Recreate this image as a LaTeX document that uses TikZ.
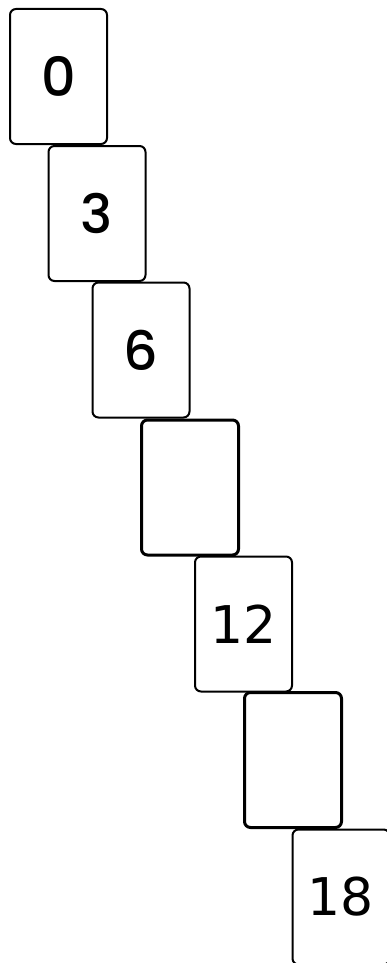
\documentclass[tikz,border=0pt]{standalone}
\usepackage{fontspec}
\setmainfont{Poppins}[BoldFont={* Medium}]
\newfontfamily\twofont{DejaVu Sans}
\usetikzlibrary{positioning}

\tikzset{
  card/.style={draw, fill=white, rounded corners=6pt, line width=2pt,
    minimum width=97pt, minimum height=135pt, inner sep=0pt,
    font=\fontsize{54}{64}\selectfont\bfseries},
  blankcard/.style={card, line width=3pt},
  twocard/.style={card, font=\twofont\fontsize{52}{64}\selectfont}
}

\begin{document}
\begin{tikzpicture}[x=1pt,y=-1pt]
\useasboundingbox (0,0) rectangle (386,963);

\node [card] (c0) at (58.5,76.5) {0};
\node [card] (c3) at (97,213.5) {3};
\node [card] (c6) at (141,350) {6};
\node [blankcard] (c9) at (190,487.5) {};
\node [twocard] (c12) at (243.5,624) {12};
\node [blankcard] (c15) at (293,760) {};
\node [twocard] (c18) at (341,897) {18};

\end{tikzpicture}
\end{document}
